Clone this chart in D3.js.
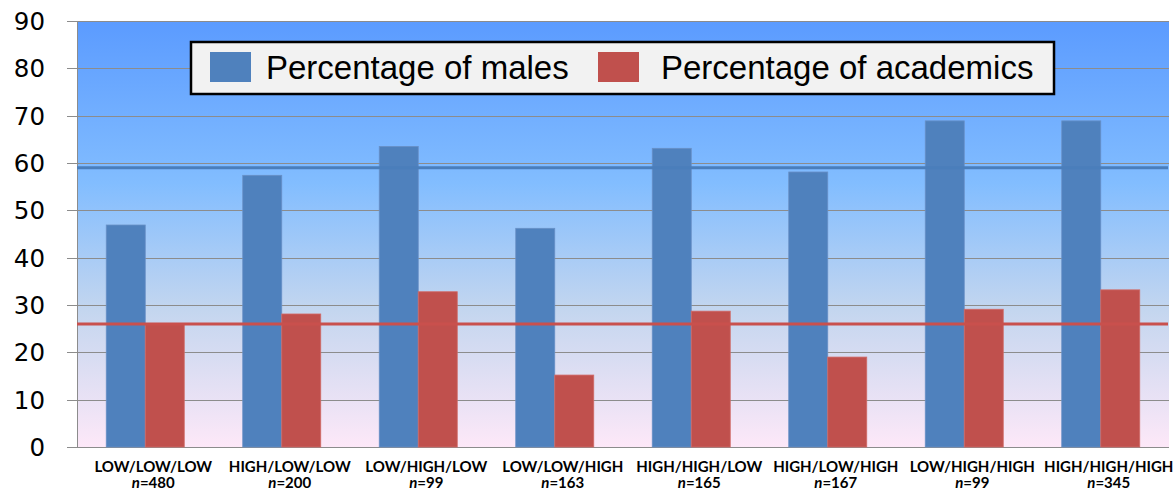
<!DOCTYPE html>
<html><head><meta charset="utf-8">
<script src="https://cdn.jsdelivr.net/npm/d3@7"></script>
<style>html,body{margin:0;padding:0;background:#fff;}svg{display:block;}</style>
</head><body><svg id="c" width="1175" height="494"></svg>
<script>
const categories = ["LOW/LOW/LOW","HIGH/LOW/LOW","LOW/HIGH/LOW","LOW/LOW/HIGH","HIGH/HIGH/LOW","HIGH/LOW/HIGH","LOW/HIGH/HIGH","HIGH/HIGH/HIGH"];
const nValues = [480, 200, 99, 163, 165, 167, 99, 345];
const males = [46.9, 57.4, 63.5, 46.2, 63.1, 58.1, 68.9, 68.9];
const academics = [26.1, 28.1, 32.8, 15.2, 28.7, 19.0, 29.1, 33.2];
const avgMales = 59;
const avgAcademics = 26;
const yTicks = [0,10,20,30,40,50,60,70,80,90];
const seriesNames = ["Percentage of males","Percentage of academics"];
const colors = ["#4f81bd","#c0504d"];

const svg = d3.select("#c");
const m = {l:77, r:1169, t:21, b:447};
const x = d3.scaleBand().domain(categories).range([m.l, m.r]).paddingInner(0).paddingOuter(0);
const y = d3.scaleLinear().domain([0,90]).range([m.b, m.t]);
const bw = 39;

const defs = svg.append("defs");
const g = defs.append("linearGradient").attr("id","bg").attr("gradientUnits","userSpaceOnUse")
  .attr("x1",0).attr("y1",m.t).attr("x2",0).attr("y2",m.b);
g.append("stop").attr("offset",0).attr("stop-color","#5b9bff");
g.append("stop").attr("offset",0.38).attr("stop-color","#82bdff");
g.append("stop").attr("offset",0.68).attr("stop-color","#c4d6ef");
g.append("stop").attr("offset",1).attr("stop-color","#fde8f8");

svg.append("rect").attr("x",m.l).attr("y",m.t).attr("width",m.r-m.l).attr("height",m.b-m.t).attr("fill","url(#bg)");

// gridlines
svg.append("g").selectAll("line").data(yTicks).join("line")
  .attr("x1",m.l-10).attr("x2",m.r).attr("y1",d=>Math.round(y(d))+0.5).attr("y2",d=>Math.round(y(d))+0.5)
  .attr("stroke","#8c8c8c").attr("stroke-width",1);
svg.append("line").attr("x1",m.l+0.5).attr("x2",m.l+0.5).attr("y1",m.t).attr("y2",m.b).attr("stroke","#8c8c8c");

// y labels
svg.append("g").selectAll("text").data(yTicks).join("text")
  .attr("x",45).attr("y",d=>y(d)+9).attr("text-anchor","end")
  .attr("font-family","DejaVu Sans").attr("font-size",24.5).attr("fill","#000").text(d=>d);

// bars
const barsG = svg.append("g");
[males, academics].forEach((arr,si)=>{
  barsG.append("g").selectAll("rect").data(arr).join("rect")
    .attr("x",(d,i)=>x(categories[i])+x.bandwidth()/2 - bw + si*bw)
    .attr("y",d=>y(d)).attr("width",bw).attr("height",d=>y(0)-y(d))
    .attr("fill",colors[si]).attr("stroke",si?"#d06a67":"#6890c6").attr("stroke-width",0.8);
});

// reference lines
svg.append("line").attr("x1",m.l).attr("x2",m.r-1).attr("y1",y(avgMales)).attr("y2",y(avgMales))
  .attr("stroke","#4a7ebb").attr("stroke-width",3);
svg.append("line").attr("x1",m.l).attr("x2",m.r-1).attr("y1",y(avgAcademics)).attr("y2",y(avgAcademics))
  .attr("stroke","#c9504d").attr("stroke-width",3);

// x labels
const xl = svg.append("g").selectAll("g").data(categories).join("g")
  .attr("transform",(d,i)=>`translate(${x(d)+x.bandwidth()/2+8},0)`);
xl.append("text").attr("y",471.5).attr("text-anchor","middle").attr("font-family","Lato").attr("font-weight","bold")
  .attr("font-size",15).attr("fill","#000").text(d=>d);
const t2 = xl.append("text").attr("y",488).attr("text-anchor","middle").attr("font-family","Lato").attr("font-weight","bold")
  .attr("font-size",15).attr("fill","#000");
t2.append("tspan").attr("font-style","italic").text("n");
t2.append("tspan").text((d,i)=>"="+nValues[i]);

// legend
const lg = svg.append("g");
lg.append("rect").attr("x",191).attr("y",42).attr("width",863).attr("height",52)
  .attr("fill","#f2f2f2").attr("stroke","#000").attr("stroke-width",2.5);
const lx = [210, 598];
const tx = [266, 661];
seriesNames.forEach((s,i)=>{
  lg.append("rect").attr("x",lx[i]).attr("y",52).attr("width",41).attr("height",30).attr("fill",colors[i]);
  lg.append("text").attr("x",tx[i]).attr("y",78.5).attr("font-family","Liberation Sans").attr("font-size",33)
    .attr("fill","#000").text(s);
});
</script></body></html>
